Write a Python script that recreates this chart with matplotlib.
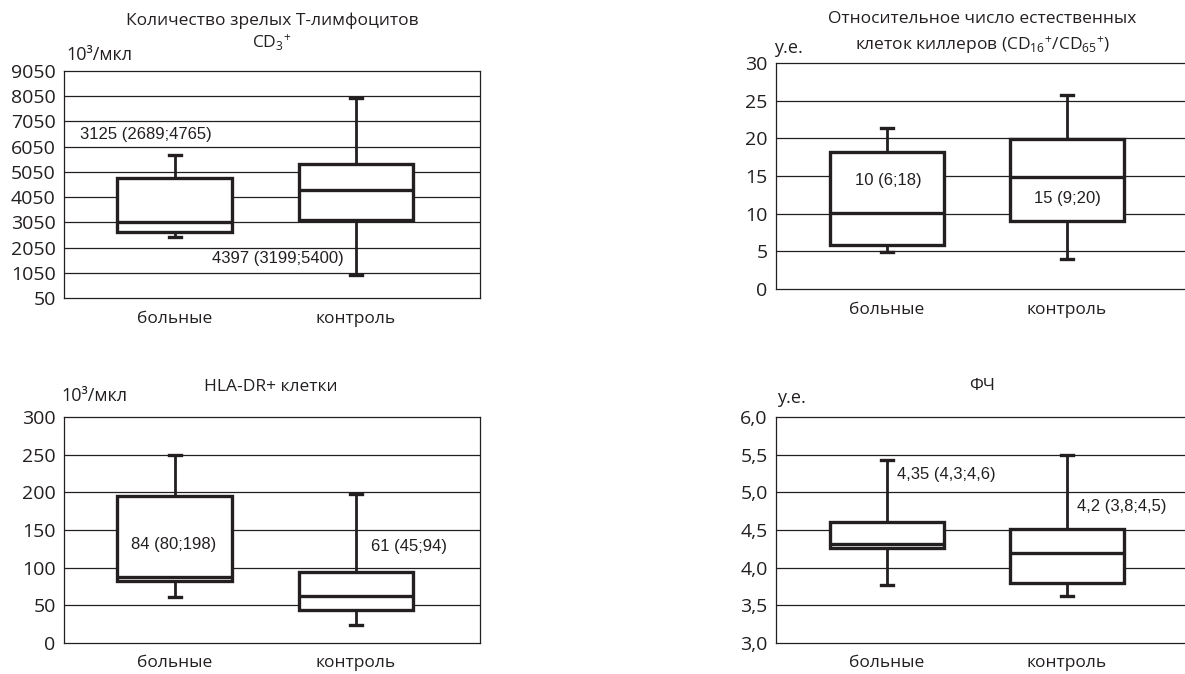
import matplotlib
matplotlib.use("Agg")
import matplotlib.pyplot as plt
from matplotlib import font_manager

W, H = 1185, 674

plt.rcParams['font.family'] = ['Open Sans', 'DejaVu Sans']
plt.rcParams['mathtext.fontset'] = 'custom'
plt.rcParams['mathtext.rm'] = 'Open Sans'
plt.rcParams['mathtext.it'] = 'Open Sans:italic'
plt.rcParams['mathtext.bf'] = 'Open Sans:bold'

names = sorted({f.name for f in font_manager.fontManager.ttflist})
narrow = 'Liberation Sans Narrow' if 'Liberation Sans Narrow' in names else 'Liberation Sans'

ink = '#231f20'
groups = ['больные', 'контроль']

# CD3+
cd3_q1 = [2660, 3145]
cd3_med = [3080, 4336]
cd3_q3 = [4820, 5356]
cd3_lo = [2483, 963]
cd3_hi = [5713, 7975]
cd3_ticks = [50, 1050, 2050, 3050, 4050, 5050, 6050, 7050, 8050, 9050]

# NK cells CD16+/CD56+
nk_q1 = [5.84, 9.0]
nk_med = [10.1, 14.93]
nk_q3 = [18.14, 19.94]
nk_lo = [4.96, 4.0]
nk_hi = [21.35, 25.8]
nk_ticks = [0, 5, 10, 15, 20, 25, 30]

# HLA-DR+
hla_q1 = [82.5, 44.1]
hla_med = [87.4, 62.2]
hla_q3 = [195.4, 94.4]
hla_lo = [60.4, 24.2]
hla_hi = [250.2, 197.3]
hla_ticks = [0, 50, 100, 150, 200, 250, 300]

# ФЧ
fc_q1 = [4.26, 3.80]
fc_med = [4.32, 4.20]
fc_q3 = [4.60, 4.51]
fc_lo = [3.77, 3.62]
fc_hi = [5.43, 5.50]
fc_ticks = [3.0, 3.5, 4.0, 4.5, 5.0, 5.5, 6.0]
fc_ticklabels = ['3,0', '3,5', '4,0', '4,5', '5,0', '5,5', '6,0']


def fx(px):
    return px / W


def fy(py):
    return 1 - py / H


def panel(box_px, xlim, q1, med, q3, lo, hi, ticks, ticklabels=None, right_spine=True):
    l, r, t, b = box_px
    ax = fig.add_axes([fx(l), fy(b), (r - l) / W, (b - t) / H])
    stats = []
    for i in range(2):
        stats.append({'med': med[i], 'q1': q1[i], 'q3': q3[i],
                      'whislo': lo[i], 'whishi': hi[i], 'fliers': []})
    ax.bxp(stats, positions=[1, 2], widths=0.635, showfliers=False, patch_artist=True,
           boxprops=dict(edgecolor=ink, facecolor='white', linewidth=2.4),
           medianprops=dict(color=ink, linewidth=2.4),
           whiskerprops=dict(color=ink, linewidth=2.0),
           capprops=dict(color=ink, linewidth=2.4),
           capwidths=0.07, zorder=3)
    ax.set_xlim(*xlim)
    ax.set_ylim(ticks[0], ticks[-1])
    ax.set_yticks(ticks)
    if ticklabels is not None:
        ax.set_yticklabels(ticklabels)
    ax.set_xticks([])
    ax.tick_params(axis='y', length=0, pad=6, labelsize=14, labelcolor=ink)
    for y in ticks[1:-1]:
        ax.axhline(y, color=ink, linewidth=0.9, zorder=1)
    for s in ['left', 'bottom', 'top', 'right']:
        ax.spines[s].set_color(ink)
        ax.spines[s].set_linewidth(0.9)
    if not right_spine:
        ax.spines['right'].set_visible(False)
    ax.patch.set_alpha(0)
    return ax


def label(px, py, s, size=12.5, ha='center', family=None):
    fig.text(fx(px), fy(py), s, ha=ha, va='center', fontsize=size, color=ink,
             family=family if family else plt.rcParams['font.family'])


fig = plt.figure(figsize=(W / 100, H / 100), dpi=100)

panel((64, 480, 71, 298), (0.387, 2.685), cd3_q1, cd3_med, cd3_q3, cd3_lo, cd3_hi, cd3_ticks)
panel((776, 1185, 63, 289), (0.383, 2.656), nk_q1, nk_med, nk_q3, nk_lo, nk_hi, nk_ticks,
      right_spine=False)
panel((64, 480, 417, 643), (0.387, 2.685), hla_q1, hla_med, hla_q3, hla_lo, hla_hi, hla_ticks)
panel((776, 1185, 417, 643), (0.383, 2.656), fc_q1, fc_med, fc_q3, fc_lo, fc_hi, fc_ticks,
      fc_ticklabels, right_spine=False)

# titles and units
label(272, 21, 'Количество зрелых Т-лимфоцитов')
label(272, 42, r'$\mathregular{CD_{3}{}^{+}}$')
label(66, 55, '10³/мкл', ha='left', size=13)
label(982, 19, 'Относительное число естественных')
label(983, 45, r'клеток киллеров ($\mathregular{CD_{16}{}^{+}/CD_{65}{}^{+}}$)')
label(774, 48, 'у.е.', ha='left', size=13)
label(271, 387, 'HLA-DR+ клетки')
label(61, 396, '10³/мкл', ha='left', size=13)
label(982, 386, 'ФЧ')
label(777, 398, 'у.е.', ha='left', size=13)

# category labels
for cx, row in [((175, 356), 319), ((887, 1067), 310), ((175, 356), 663), ((887, 1067), 663)]:
    label(cx[0], row, groups[0], size=12.5)
    label(cx[1], row, groups[1], size=12.5)

# median (quartile) notes
label(80, 134, '3125 (2689;4765)', ha='left', size=12, family=narrow)
label(212, 259, '4397 (3199;5400)', ha='left', size=12, family=narrow)
label(888, 180, '10 (6;18)', size=12, family=narrow)
label(1067, 198, '15 (9;20)', size=12, family=narrow)
label(174, 545, '84 (80;198)', size=12, family=narrow)
label(409, 547, '61 (45;94)', size=12, family=narrow)
label(897, 475, '4,35 (4,3;4,6)', ha='left', size=12, family=narrow)
label(1077, 507, '4,2 (3,8;4,5)', ha='left', size=12, family=narrow)

fig.savefig('out.png', dpi=100)
